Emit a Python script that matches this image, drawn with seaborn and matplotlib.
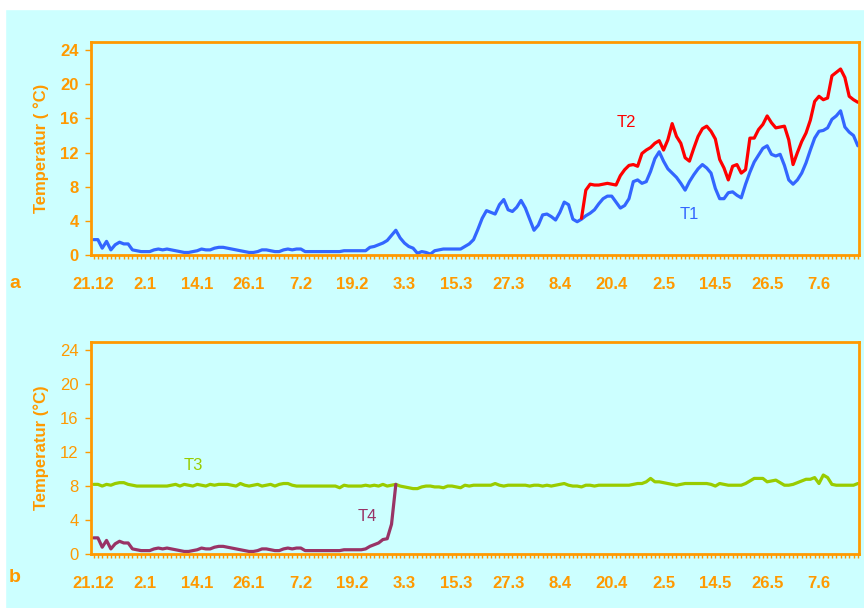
import numpy as np
import pandas as pd
import matplotlib
matplotlib.use("Agg")
import matplotlib.pyplot as plt
from matplotlib.ticker import MultipleLocator
import seaborn as sns

# ---------------- data ----------------
tick_labels = ["21.12", "2.1", "14.1", "26.1", "7.2", "19.2", "3.3", "15.3",
               "27.3", "8.4", "20.4", "2.5", "14.5", "26.5", "7.6"]
tick_days = [0, 12, 24, 36, 48, 60, 72, 84, 96, 108, 120, 132, 144, 156, 168]

t1 = [1.8, 1.8, 0.8, 1.6, 0.6, 1.2, 1.5, 1.3, 1.3, 0.6,
      0.5, 0.4, 0.4, 0.4, 0.6, 0.7, 0.6, 0.7, 0.6, 0.5,
      0.4, 0.3, 0.3, 0.4, 0.5, 0.7, 0.6, 0.6, 0.8, 0.9,
      0.9, 0.8, 0.7, 0.6, 0.5, 0.4, 0.3, 0.3, 0.4, 0.6,
      0.6, 0.5, 0.4, 0.4, 0.6, 0.7, 0.6, 0.7, 0.7, 0.4,
      0.4, 0.4, 0.4, 0.4, 0.4, 0.4, 0.4, 0.4, 0.5, 0.5,
      0.5, 0.5, 0.5, 0.5, 0.9, 1.0, 1.2, 1.4, 1.7, 2.3,
      2.9, 2.0, 1.4, 1.0, 0.8, 0.2, 0.4, 0.3, 0.1, 0.5,
      0.6, 0.7, 0.7, 0.7, 0.7, 0.7, 1.0, 1.3, 1.8, 3.0,
      4.3, 5.2, 5.0, 4.8, 5.9, 6.5, 5.3, 5.1, 5.6, 6.4,
      5.5, 4.2, 2.9, 3.5, 4.7, 4.8, 4.5, 4.1, 5.0, 6.2,
      5.9, 4.2, 3.9, 4.2, 4.6, 4.9, 5.3, 6.0, 6.6, 6.9,
      6.9, 6.2, 5.5, 5.8, 6.6, 8.6, 8.8, 8.4, 8.6, 9.8,
      11.3, 12.1, 11.0, 10.1, 9.6, 9.1, 8.4, 7.6, 8.6, 9.4,
      10.1, 10.6, 10.2, 9.6, 7.8, 6.6, 6.6, 7.3, 7.4, 7.0,
      6.7, 8.3, 9.7, 10.9, 11.7, 12.5, 12.8, 11.8, 11.6, 11.8,
      10.5, 8.8, 8.3, 8.8, 9.6, 10.8, 12.3, 13.7, 14.5, 14.6,
      14.9, 15.9, 16.3, 16.9, 15.0, 14.4, 14.0, 12.8]

t2_start = 113
t2 = [4.3, 7.6, 8.3, 8.2, 8.2, 8.3, 8.4, 8.3, 8.2, 9.3,
      10.0, 10.5, 10.6, 10.4, 11.9, 12.3, 12.6, 13.1, 13.4, 12.3,
      13.5, 15.4, 13.9, 13.1, 11.4, 11.0, 12.5, 13.9, 14.8, 15.1,
      14.5, 13.6, 11.2, 10.2, 8.8, 10.4, 10.6, 9.6, 10.0, 13.7,
      13.7, 14.7, 15.3, 16.3, 15.5, 14.9, 15.0, 15.1, 13.5, 10.6,
      12.0, 13.3, 14.3, 15.8, 18.0, 18.6, 18.2, 18.4, 21.0, 21.4,
      21.8, 20.8, 18.6, 18.2, 17.9]

t3 = [8.2, 8.2, 8.0, 8.2, 8.1, 8.3, 8.4, 8.4, 8.2, 8.1,
      8.0, 8.0, 8.0, 8.0, 8.0, 8.0, 8.0, 8.0, 8.1, 8.2,
      8.0, 8.2, 8.1, 8.0, 8.2, 8.1, 8.0, 8.2, 8.1, 8.2,
      8.2, 8.2, 8.1, 8.0, 8.3, 8.1, 8.0, 8.1, 8.2, 8.0,
      8.1, 8.2, 8.0, 8.2, 8.3, 8.3, 8.1, 8.0, 8.0, 8.0,
      8.0, 8.0, 8.0, 8.0, 8.0, 8.0, 8.0, 7.8, 8.1, 8.0,
      8.0, 8.0, 8.0, 8.1, 8.0, 8.1, 8.0, 8.2, 8.0, 8.1,
      8.2, 8.0, 7.9, 7.8, 7.7, 7.7, 7.9, 8.0, 8.0, 7.9,
      7.9, 7.8, 8.0, 8.0, 7.9, 7.8, 8.1, 8.0, 8.1, 8.1,
      8.1, 8.1, 8.1, 8.3, 8.1, 8.0, 8.1, 8.1, 8.1, 8.1,
      8.1, 8.0, 8.1, 8.1, 8.0, 8.1, 8.0, 8.1, 8.2, 8.3,
      8.1, 8.0, 8.0, 7.9, 8.1, 8.1, 8.0, 8.1, 8.1, 8.1,
      8.1, 8.1, 8.1, 8.1, 8.1, 8.2, 8.3, 8.3, 8.5, 8.9,
      8.5, 8.5, 8.4, 8.3, 8.2, 8.1, 8.2, 8.3, 8.3, 8.3,
      8.3, 8.3, 8.3, 8.2, 8.0, 8.3, 8.2, 8.1, 8.1, 8.1,
      8.1, 8.3, 8.6, 8.9, 8.9, 8.9, 8.5, 8.6, 8.7, 8.4,
      8.1, 8.1, 8.2, 8.4, 8.6, 8.8, 8.8, 9.0, 8.3, 9.3,
      9.0, 8.2, 8.1, 8.1, 8.1, 8.1, 8.1, 8.3]

t4 = [1.9, 1.9, 0.8, 1.6, 0.6, 1.2, 1.5, 1.3, 1.3, 0.6,
      0.5, 0.4, 0.4, 0.4, 0.6, 0.7, 0.6, 0.7, 0.6, 0.5,
      0.4, 0.3, 0.3, 0.4, 0.5, 0.7, 0.6, 0.6, 0.8, 0.9,
      0.9, 0.8, 0.7, 0.6, 0.5, 0.4, 0.3, 0.3, 0.4, 0.6,
      0.6, 0.5, 0.4, 0.4, 0.6, 0.7, 0.6, 0.7, 0.7, 0.4,
      0.4, 0.4, 0.4, 0.4, 0.4, 0.4, 0.4, 0.4, 0.5, 0.5,
      0.5, 0.5, 0.5, 0.6, 0.9, 1.1, 1.3, 1.7, 1.8, 3.5,
      8.2]

ORANGE = "#FF9900"
BG = "#CCFFFF"
C_T1, C_T2, C_T3, C_T4 = "#3366FF", "#FF0000", "#99CC00", "#993366"

df1 = pd.DataFrame({"day": np.arange(len(t1)), "temp": t1})
df2 = pd.DataFrame({"day": np.arange(t2_start, t2_start + len(t2)), "temp": t2})
df3 = pd.DataFrame({"day": np.arange(len(t3)), "temp": t3})
df4 = pd.DataFrame({"day": np.arange(len(t4)), "temp": t4})

sns.set_style("white")
plt.rcParams["font.family"] = ["Liberation Sans", "DejaVu Sans"]

fig = plt.figure(figsize=(8.64, 6.08), dpi=100)
fig.patch.set_facecolor(BG)
# white margins
fig.patches.append(plt.Rectangle((0, 1 - 9 / 608), 1, 9 / 608, transform=fig.transFigure,
                                 color="white", zorder=0))
fig.patches.append(plt.Rectangle((0, 0), 5 / 864, 1, transform=fig.transFigure,
                                 color="white", zorder=0))

W, H = 864, 608
axA = fig.add_axes([91 / W, (H - 255) / H, (858.7 - 91) / W, (255 - 41.7) / H])
axB = fig.add_axes([91 / W, (H - 554) / H, (858.7 - 91) / W, (554 - 341.7) / H])

sns.lineplot(data=df1, x="day", y="temp", ax=axA, color=C_T1, linewidth=2.3)
sns.lineplot(data=df2, x="day", y="temp", ax=axA, color=C_T2, linewidth=2.3)
sns.lineplot(data=df3, x="day", y="temp", ax=axB, color=C_T3, linewidth=2.3)
sns.lineplot(data=df4, x="day", y="temp", ax=axB, color=C_T4, linewidth=2.3)

for ax, ybold, ylab in [(axA, "bold", "Temperatur ( °C)"), (axB, "normal", "Temperatur (°C)")]:
    ax.set_facecolor(BG)
    ax.set_xlim(-0.6, 177.2)
    ax.set_ylim(0, 25)
    for s in ax.spines.values():
        s.set_color(ORANGE)
        s.set_linewidth(2.0)
        s.set_visible(True)
    ax.set_yticks([0, 4, 8, 12, 16, 20, 24])
    ax.set_xticks(tick_days)
    ax.set_xticklabels(tick_labels)
    ax.xaxis.set_minor_locator(MultipleLocator(1))
    ax.tick_params(axis="x", which="both", direction="out", length=3, width=1,
                   color=ORANGE, bottom=True, labelcolor=ORANGE, labelsize=12, pad=12.5)
    ax.tick_params(axis="y", which="major", direction="out", length=4, width=1,
                   color=ORANGE, left=True, labelcolor=ORANGE, labelsize=12, pad=5)
    for lab in ax.get_xticklabels():
        lab.set_fontweight("bold")
    for lab in ax.get_yticklabels():
        lab.set_fontweight(ybold)
    ax.set_xlabel("")
    ax.set_ylabel(ylab, color=ORANGE, fontsize=12, fontweight="bold", labelpad=8)
    ax.grid(False)

axA.text(123.5, 15.5, "T2", color=C_T2, fontsize=12, ha="center", va="center")
axA.text(138, 4.7, "T1", color=C_T1, fontsize=12, ha="center", va="center")
axB.text(23, 10.4, "T3", color=C_T3, fontsize=12, ha="center", va="center")
axB.text(63.5, 4.4, "T4", color=C_T4, fontsize=12, ha="center", va="center")

fig.text(15 / W, 1 - 283 / H, "a", color=ORANGE, fontsize=14, fontweight="bold",
         ha="center", va="center")
fig.text(15 / W, 1 - 578 / H, "b", color=ORANGE, fontsize=14, fontweight="bold",
         ha="center", va="center")

fig.savefig("out.png", dpi=100, facecolor=fig.get_facecolor())
